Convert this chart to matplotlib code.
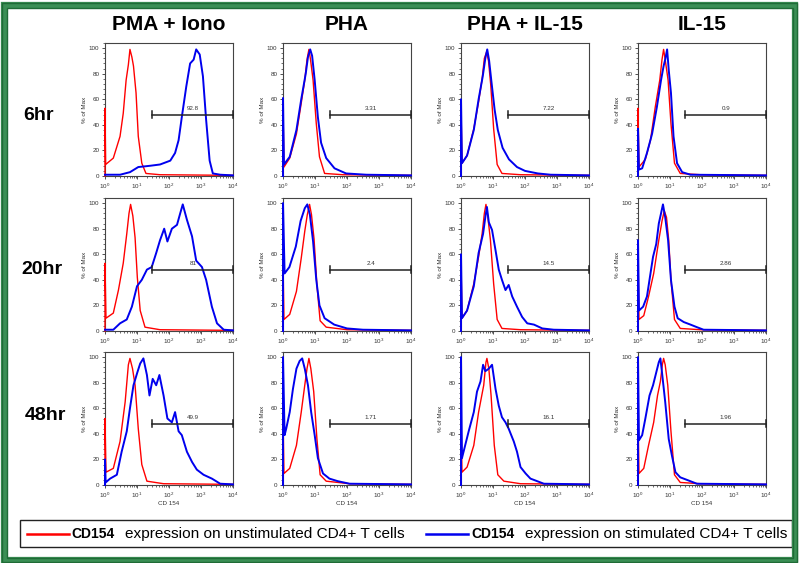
import matplotlib
matplotlib.use("Agg")
import matplotlib.pyplot as plt
from matplotlib.patches import Rectangle
from matplotlib.lines import Line2D
from matplotlib.ticker import LogLocator, MultipleLocator, NullFormatter
import numpy as np

plt.rcParams['font.family'] = ['Liberation Sans', 'DejaVu Sans']

W, H = 800, 563

col_titles = ["PMA + Iono", "PHA", "PHA + IL-15", "IL-15"]
row_titles = ["6hr", "20hr", "48hr"]
gate_values = [["92.8", "3.31", "7.22", "0.9"],
               ["81", "2.4", "14.5", "2.86"],
               ["49.9", "1.71", "16.1", "1.96"]]
gate_start = 30.0
gate_end = 1e4
gate_level = 48.0
legend_red = "expression on unstimulated CD4+ T cells"
legend_blue = "expression on stimulated CD4+ T cells"
marker_name = "CD154"

# ---- curves: log10(CD154) positions and % of Max ----
# row 0 (6hr)
r00_lx = [0, 0, 0.02, 0.26, 0.47, 0.57, 0.66, 0.73, 0.78, 0.84, 0.89, 0.97, 1.04, 1.15, 1.28, 1.72, 4]
r00_y = [0, 53, 9, 14, 31, 49, 75, 87, 99, 93, 86, 65, 31, 10, 2, 1, 0.5]
b00_lx = [0, 0.47, 0.78, 1.04, 1.41, 1.72, 2.04, 2.19, 2.3, 2.4, 2.54, 2.66, 2.77, 2.85, 2.96, 3.06, 3.16, 3.27, 3.37, 3.6, 4]
b00_y = [1, 1, 3, 7, 8, 9, 12, 18, 28, 46, 70, 88, 91, 99, 95, 78, 44, 12, 2, 1, 0.5]

r01_lx = [0, 0, 0.03, 0.21, 0.42, 0.57, 0.68, 0.75, 0.81, 0.86, 0.94, 1.04, 1.14, 1.3, 1.87, 4]
r01_y = [0, 55, 7, 14, 33, 57, 75, 91, 99, 91, 75, 41, 15, 2, 1, 0.5]
b01_lx = [0, 0, 0.03, 0.21, 0.42, 0.57, 0.71, 0.78, 0.85, 0.91, 0.99, 1.09, 1.19, 1.35, 1.61, 1.97, 2.6, 4]
b01_y = [0, 61, 9, 15, 36, 60, 80, 93, 99, 94, 75, 46, 26, 14, 6, 2, 1, 0.5]

r02_lx = [0, 0, 0.03, 0.19, 0.4, 0.55, 0.66, 0.73, 0.8, 0.86, 0.93, 1.02, 1.13, 1.28, 1.86, 4]
r02_y = [0, 55, 10, 16, 37, 58, 76, 92, 97, 90, 71, 37, 9, 2, 1, 0.5]
b02_lx = [0, 0, 0.03, 0.19, 0.4, 0.55, 0.68, 0.76, 0.82, 0.88, 0.95, 1.05, 1.15, 1.3, 1.5, 1.75, 2.0, 2.4, 2.8, 4]
b02_y = [0, 60, 10, 16, 36, 60, 78, 92, 99, 90, 74, 52, 36, 22, 13, 7, 4, 2, 1, 0.5]

r03_lx = [0, 0, 0.03, 0.23, 0.39, 0.54, 0.68, 0.75, 0.8, 0.85, 0.94, 1.03, 1.14, 1.32, 1.95, 4]
r03_y = [0, 53, 7, 13, 28, 54, 75, 91, 99, 91, 75, 41, 10, 2, 1, 0.5]
b03_lx = [0, 0, 0.03, 0.13, 0.28, 0.44, 0.59, 0.72, 0.8, 0.85, 0.91, 0.96, 1.03, 1.11, 1.22, 1.38, 1.64, 4]
b03_y = [0, 37, 5, 6, 18, 33, 54, 75, 86, 91, 99, 83, 65, 31, 10, 3, 1, 0.5]

# row 1 (20hr)
r10_lx = [0, 0, 0.03, 0.26, 0.42, 0.57, 0.68, 0.75, 0.8, 0.87, 0.94, 1.01, 1.1, 1.25, 1.72, 4]
r10_y = [0, 53, 10, 14, 32, 53, 76, 92, 99, 90, 73, 42, 16, 3, 1, 0.5]
b10_lx = [0, 0.26, 0.47, 0.68, 0.84, 1.0, 1.15, 1.31, 1.46, 1.6, 1.72, 1.85, 1.95, 2.09, 2.25, 2.35, 2.43,
          2.56, 2.72, 2.85, 3.03, 3.16, 3.34, 3.5, 3.71, 4]
b10_y = [1, 1, 6, 9, 19, 35, 40, 48, 50, 61, 71, 80, 70, 80, 83, 92, 99,
         87, 74, 55, 50, 40, 19, 6, 1, 0.5]

r11_lx = [0, 0, 0.03, 0.21, 0.42, 0.57, 0.68, 0.76, 0.83, 0.89, 0.97, 1.06, 1.16, 1.35, 2.0, 4]
r11_y = [0, 55, 9, 13, 31, 57, 78, 91, 99, 91, 72, 36, 8, 3, 1, 0.5]
b11_lx = [0, 0, 0.05, 0.2, 0.4, 0.55, 0.68, 0.76, 0.84, 0.94, 1.04, 1.14, 1.3, 1.6, 2.0, 2.5, 4]
b11_y = [0, 100, 45, 50, 66, 86, 96, 99, 91, 70, 40, 20, 10, 5, 2, 1, 0.5]

r12_lx = [0, 0, 0.03, 0.19, 0.4, 0.55, 0.66, 0.73, 0.78, 0.84, 0.92, 1.02, 1.13, 1.28, 1.86, 4]
r12_y = [0, 55, 10, 16, 37, 58, 76, 92, 99, 89, 71, 37, 9, 2, 1, 0.5]
b12_lx = [0, 0, 0.03, 0.19, 0.4, 0.55, 0.69, 0.76, 0.81, 0.87, 0.97, 1.08, 1.18, 1.28, 1.39, 1.49, 1.6,
          1.75, 1.91, 2.07, 2.28, 2.54, 2.9, 4]
b12_y = [0, 60, 10, 16, 35, 61, 76, 89, 97, 85, 79, 63, 48, 40, 32, 36, 27,
         19, 11, 6, 5, 2, 1, 0.5]

r13_lx = [0, 0, 0.03, 0.18, 0.33, 0.49, 0.65, 0.75, 0.82, 0.89, 0.96, 1.03, 1.14, 1.32, 1.95, 4]
r13_y = [0, 60, 9, 12, 27, 45, 71, 86, 94, 89, 71, 40, 9, 2, 1, 0.5]
b13_lx = [0, 0, 0.03, 0.16, 0.28, 0.39, 0.47, 0.57, 0.65, 0.72, 0.78, 0.85, 0.94, 1.03, 1.14, 1.24,
          1.43, 1.64, 1.84, 2.05, 4]
b13_y = [0, 71, 16, 19, 27, 45, 58, 68, 84, 92, 99, 89, 71, 40, 19, 10,
         7, 5, 3, 1, 0.5]

# row 2 (48hr)
r20_lx = [0, 0, 0.03, 0.26, 0.47, 0.63, 0.73, 0.78, 0.86, 0.94, 1.04, 1.15, 1.31, 1.83, 4]
r20_y = [0, 52, 10, 13, 34, 65, 94, 99, 91, 78, 44, 16, 3, 1, 0.5]
b20_lx = [0, 0, 0.02, 0.16, 0.37, 0.52, 0.68, 0.78, 0.89, 1.01, 1.1, 1.2, 1.31, 1.39, 1.49, 1.6, 1.7,
          1.83, 1.95, 2.09, 2.19, 2.3, 2.4, 2.56, 2.72, 2.87, 3.08, 3.34, 3.6, 4]
b20_y = [0, 20, 2, 5, 8, 26, 42, 60, 78, 88, 95, 99, 86, 70, 83, 78, 86,
         70, 52, 49, 57, 42, 39, 26, 18, 12, 8, 5, 1, 0.5]

r21_lx = [0, 0, 0.03, 0.21, 0.42, 0.57, 0.68, 0.75, 0.81, 0.87, 0.96, 1.06, 1.16, 1.35, 2.08, 4]
r21_y = [0, 55, 9, 13, 31, 57, 78, 91, 99, 91, 73, 36, 8, 3, 1, 0.5]
b21_lx = [0, 0, 0.05, 0.1, 0.21, 0.31, 0.42, 0.52, 0.6, 0.68, 0.78, 0.88, 0.99, 1.09, 1.25, 1.45,
          1.71, 2.08, 4]
b21_y = [0, 100, 39, 44, 57, 75, 91, 97, 99, 91, 78, 57, 39, 21, 9, 5,
         3, 1, 0.5]

r22_lx = [0, 0, 0.03, 0.19, 0.4, 0.55, 0.71, 0.78, 0.81, 0.87, 0.94, 1.04, 1.15, 1.34, 1.86, 4]
r22_y = [0, 55, 10, 14, 31, 57, 78, 96, 99, 91, 70, 31, 8, 3, 1, 0.5]
b22_lx = [0, 0, 0.03, 0.08, 0.24, 0.4, 0.5, 0.61, 0.69, 0.76, 0.87, 0.97, 1.08, 1.18, 1.28, 1.39, 1.49,
          1.65, 1.75, 1.86, 2.02, 2.17, 2.38, 2.59, 4]
b22_y = [0, 100, 21, 26, 42, 57, 73, 81, 94, 89, 91, 94, 75, 62, 53, 49, 44,
         34, 26, 14, 9, 5, 3, 1, 0.5]

r23_lx = [0, 0, 0.03, 0.18, 0.33, 0.49, 0.61, 0.7, 0.76, 0.8, 0.85, 0.93, 1.03, 1.14, 1.32, 1.95, 4]
r23_y = [0, 55, 9, 13, 31, 49, 70, 81, 94, 99, 94, 78, 42, 8, 2, 1, 0.5]
b23_lx = [0, 0, 0.03, 0.13, 0.23, 0.36, 0.47, 0.57, 0.65, 0.7, 0.75, 0.85, 0.96, 1.06, 1.17, 1.32,
          1.53, 1.84, 4]
b23_y = [0, 100, 35, 39, 52, 70, 78, 88, 96, 99, 88, 65, 36, 23, 10, 6,
         4, 1, 0.5]

red_curves = [[(r00_lx, r00_y), (r01_lx, r01_y), (r02_lx, r02_y), (r03_lx, r03_y)],
              [(r10_lx, r10_y), (r11_lx, r11_y), (r12_lx, r12_y), (r13_lx, r13_y)],
              [(r20_lx, r20_y), (r21_lx, r21_y), (r22_lx, r22_y), (r23_lx, r23_y)]]
blue_curves = [[(b00_lx, b00_y), (b01_lx, b01_y), (b02_lx, b02_y), (b03_lx, b03_y)],
               [(b10_lx, b10_y), (b11_lx, b11_y), (b12_lx, b12_y), (b13_lx, b13_y)],
               [(b20_lx, b20_y), (b21_lx, b21_y), (b22_lx, b22_y), (b23_lx, b23_y)]]

RED = "#ff0000"
BLUE = "#0000ee"

fig = plt.figure(figsize=(W / 100, H / 100), dpi=100)
fig.patch.set_facecolor("white")

col_x0 = [105, 283, 461, 638]
row_y0 = [176, 331, 485]
ax_w, ax_h = 128, 133

for r in range(3):
    for c in range(4):
        left = col_x0[c] / W
        bottom = 1 - row_y0[r] / H
        ax = fig.add_axes([left, bottom, ax_w / W, ax_h / H])
        rlx, ry = red_curves[r][c]
        blx, by = blue_curves[r][c]
        ax.plot(10 ** np.array(rlx, float), ry, color=RED, lw=1.0, zorder=3, clip_on=False)
        ax.plot(10 ** np.array(blx, float), by, color=BLUE, lw=1.4, zorder=4, clip_on=False)
        ax.set_xscale("log")
        ax.set_xlim(1, 1e4)
        ax.set_ylim(0, 104)
        # gate
        ax.plot([gate_start, gate_end], [gate_level, gate_level], color="#222222", lw=1.1, zorder=5,
                clip_on=False)
        ax.plot([gate_start, gate_start], [gate_level - 2.5, gate_level + 2.5], color="#222222", lw=1.1,
                zorder=5)
        ax.plot([gate_end, gate_end], [gate_level - 2.5, gate_level + 2.5], color="#222222", lw=1.1,
                zorder=5, clip_on=False)
        ax.text(10 ** 2.75, gate_level + 2.5, gate_values[r][c], fontsize=4.5, color="#333333",
                ha="center", va="bottom", zorder=6)
        ax.yaxis.set_major_locator(MultipleLocator(20))
        ax.yaxis.set_minor_locator(MultipleLocator(4))
        ax.xaxis.set_major_locator(LogLocator(base=10, numticks=10))
        ax.xaxis.set_minor_locator(LogLocator(base=10, subs=np.arange(2, 10), numticks=20))
        ax.xaxis.set_minor_formatter(NullFormatter())
        ax.tick_params(axis="both", which="major", labelsize=4.5, length=2.5, width=0.6,
                       colors="#333333", pad=1.5)
        ax.tick_params(axis="both", which="minor", length=1.5, width=0.5, colors="#333333")
        for s in ax.spines.values():
            s.set_linewidth(0.8)
            s.set_color("#444444")
        ax.set_ylabel("% of Max", fontsize=4.5, color="#333333", labelpad=1.5)
        if r == 2:
            ax.set_xlabel("CD 154", fontsize=4.5, color="#333333", labelpad=1)

# column / row titles
for c, t in enumerate(col_titles):
    fig.text((col_x0[c] + ax_w / 2) / W, 1 - 24 / H, t, fontsize=15, fontweight="bold",
             ha="center", va="center")
row_label_pos = [(38, 116), (42, 270), (45, 416)]
for (px, py), t in zip(row_label_pos, row_titles):
    fig.text(px / W, 1 - py / H, t, fontsize=14, fontweight="bold", ha="center", va="center")

# legend box
fig.add_artist(Rectangle((20 / W, 1 - 547 / H), 772 / W, 27 / H, transform=fig.transFigure,
                         fill=False, edgecolor="#222222", lw=1.0))
ly = 1 - 534 / H
fig.add_artist(Line2D([27 / W, 69 / W], [ly, ly], color=RED, lw=1.8, transform=fig.transFigure))
fig.text(71 / W, ly, marker_name, fontsize=10, fontweight="bold", va="center", ha="left")
fig.text(125 / W, ly, legend_red, fontsize=11.1, va="center", ha="left")
fig.add_artist(Line2D([426 / W, 468 / W], [ly, ly], color=BLUE, lw=1.8, transform=fig.transFigure))
fig.text(471 / W, ly, marker_name, fontsize=10, fontweight="bold", va="center", ha="left")
fig.text(525 / W, ly, legend_blue, fontsize=11.1, va="center", ha="left")

# green frame
fig.add_artist(Rectangle((4 / W, 1 - 560 / H), 791 / W, 555 / H, transform=fig.transFigure,
                         fill=False, edgecolor="#3b8f55", lw=4.5, zorder=10))
fig.add_artist(Rectangle((2 / W, 1 - 562 / H), 795 / W, 559 / H, transform=fig.transFigure,
                         fill=False, edgecolor="#1f6b36", lw=1.0, zorder=11))
fig.add_artist(Rectangle((6.5 / W, 1 - 557.5 / H), 786 / W, 550 / H, transform=fig.transFigure,
                         fill=False, edgecolor="#1f6b36", lw=1.0, zorder=11))

fig.savefig("out.png", dpi=100, facecolor="white")
